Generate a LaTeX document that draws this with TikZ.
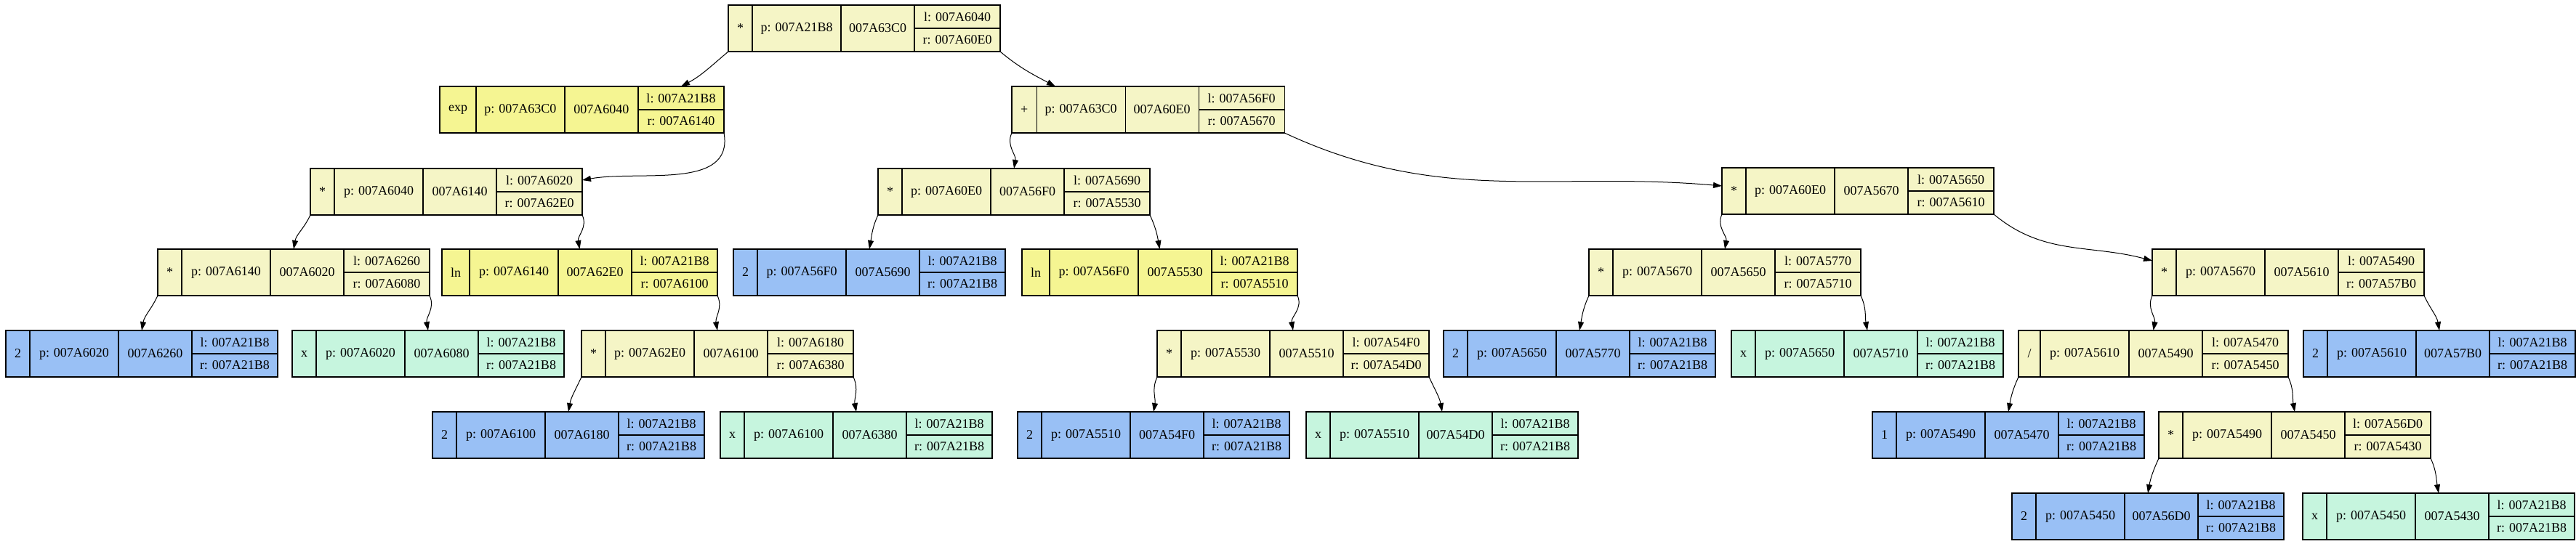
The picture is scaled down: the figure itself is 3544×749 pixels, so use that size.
\documentclass[tikz,border=0pt]{standalone}
\usepackage{fontspec}
\setmainfont{Liberation Serif}
\usetikzlibrary{positioning,fit,calc,arrows.meta}

\definecolor{opfill}{HTML}{F5F5C6}
\definecolor{fnfill}{HTML}{F5F592}
\definecolor{numfill}{HTML}{99C0F5}
\definecolor{varfill}{HTML}{C6F5DE}

\newcommand{\h}{64pt}
% #1 name, #2 position, #3 fill, #4 key, #5 parent, #6 self, #7 left, #8 right
\newcommand{\record}[8]{%
  \node[key, fill=#3, anchor=north west] (#1-k) at #2 {#4};
  \node[cell, fill=#3, minimum width=122pt, right=0pt of #1-k] (#1-p) {p: #5};
  \node[cell, fill=#3, minimum width=101pt, right=0pt of #1-p] (#1-a) {#6};
  \node[half, fill=#3, anchor=north west] (#1-l) at (#1-a.north east) {l: #7};
  \node[half, fill=#3, anchor=north west] (#1-r) at (#1-l.south west) {r: #8};
  \node[fit=(#1-k)(#1-r), inner sep=0pt, outer sep=0pt] (#1) {};
}

\begin{document}
\begin{tikzpicture}[x=1pt, y=1pt,
    cell/.style={draw, rectangle, minimum height=\h, inner sep=0pt, outer sep=0pt, line width=1.2pt, font=\fontsize{18}{20}\selectfont},
    key/.style={cell, minimum width=30pt, inner xsep=12pt},
    half/.style={cell, minimum height=32pt, minimum width=118pt},
    link/.style={-{Triangle[length=12pt,width=8pt]}, line width=1pt}]
    \useasboundingbox (0,0) rectangle (3544,-749);

    % Level 0 and 1
    \record{a63C0}{(1002,-7)}{opfill}{*}{007A21B8}{007A63C0}{007A6040}{007A60E0}
    \record{a6040}{(605,-119)}{fnfill}{exp}{007A63C0}{007A6040}{007A21B8}{007A6140}
    \record{a60E0}{(1392,-119)}{opfill}{+}{007A63C0}{007A60E0}{007A56F0}{007A5670}

    % Level 2
    \record{a6140}{(427,-232)}{opfill}{*}{007A6040}{007A6140}{007A6020}{007A62E0}
    \record{a56F0}{(1208,-232)}{opfill}{*}{007A60E0}{007A56F0}{007A5690}{007A5530}
    \record{a5670}{(2369,-231)}{opfill}{*}{007A60E0}{007A5670}{007A5650}{007A5610}

    % Level 3
    \record{a6020}{(217,-343)}{opfill}{*}{007A6140}{007A6020}{007A6260}{007A6080}
    \record{a62E0}{(608,-343)}{fnfill}{ln}{007A6140}{007A62E0}{007A21B8}{007A6100}
    \record{a5690}{(1009,-343)}{numfill}{2}{007A56F0}{007A5690}{007A21B8}{007A21B8}
    \record{a5530}{(1406,-343)}{fnfill}{ln}{007A56F0}{007A5530}{007A21B8}{007A5510}
    \record{a5650}{(2186,-343)}{opfill}{*}{007A5670}{007A5650}{007A5770}{007A5710}
    \record{a5610}{(2961,-343)}{opfill}{*}{007A5670}{007A5610}{007A5490}{007A57B0}

    % Level 4
    \record{a6260}{(8,-455)}{numfill}{2}{007A6020}{007A6260}{007A21B8}{007A21B8}
    \record{a6080}{(402,-455)}{varfill}{x}{007A6020}{007A6080}{007A21B8}{007A21B8}
    \record{a6100}{(800,-455)}{opfill}{*}{007A62E0}{007A6100}{007A6180}{007A6380}
    \record{a5510}{(1592,-455)}{opfill}{*}{007A5530}{007A5510}{007A54F0}{007A54D0}
    \record{a5770}{(1986,-455)}{numfill}{2}{007A5650}{007A5770}{007A21B8}{007A21B8}
    \record{a5710}{(2382,-455)}{varfill}{x}{007A5650}{007A5710}{007A21B8}{007A21B8}
    \record{a5490}{(2777,-455)}{opfill}{/}{007A5610}{007A5490}{007A5470}{007A5450}
    \record{a57B0}{(3169,-455)}{numfill}{2}{007A5610}{007A57B0}{007A21B8}{007A21B8}

    % Level 5
    \record{a6180}{(595,-567)}{numfill}{2}{007A6100}{007A6180}{007A21B8}{007A21B8}
    \record{a6380}{(991,-567)}{varfill}{x}{007A6100}{007A6380}{007A21B8}{007A21B8}
    \record{a54F0}{(1400,-567)}{numfill}{2}{007A5510}{007A54F0}{007A21B8}{007A21B8}
    \record{a54D0}{(1797,-567)}{varfill}{x}{007A5510}{007A54D0}{007A21B8}{007A21B8}
    \record{a5470}{(2576,-567)}{numfill}{1}{007A5490}{007A5470}{007A21B8}{007A21B8}
    \record{a5450}{(2970,-567)}{opfill}{*}{007A5490}{007A5450}{007A56D0}{007A5430}

    % Level 6
    \record{a56D0}{(2768,-679)}{numfill}{2}{007A5450}{007A56D0}{007A21B8}{007A21B8}
    \record{a5430}{(3168,-679)}{varfill}{x}{007A5450}{007A5430}{007A21B8}{007A21B8}

    % Edges
    \draw[link] (a63C0.south west) to[out=-140, in=28] (a6040-l.north);
    \draw[link] (a63C0.south east) to[out=-40, in=152] ($(a60E0.north west)+(60,0)$);
    \draw[link] (a6040.south east) to[out=-80, in=10] (a6140-l.east);
    \draw[link] (a60E0.south west) to[out=-115, in=80] (a56F0.north);
    \draw[link] (a60E0.south east) to[out=-25, in=175] ($(a5670.west)+(0,7)$);
    \draw[link] (a6140.south west) to[out=-115, in=80] (a6020.north);
    \draw[link] (a6140.south east) to[out=-65, in=100] (a62E0.north);
    \draw[link] (a56F0.south west) to[out=-115, in=80] (a5690.north);
    \draw[link] (a56F0.south east) to[out=-65, in=100] (a5530.north);
    \draw[link] (a5670.south west) to[out=-115, in=80] (a5650.north);
    \draw[link] (a5670.south east) to[out=-40, in=165] ($(a5610.north west)+(0,-16)$);
    \draw[link] (a6020.south west) to[out=-115, in=80] (a6260.north);
    \draw[link] (a6020.south east) to[out=-65, in=100] (a6080.north);
    \draw[link] (a62E0.south east) to[out=-65, in=100] (a6100.north);
    \draw[link] (a5530.south east) to[out=-65, in=100] (a5510.north);
    \draw[link] (a5650.south west) to[out=-115, in=80] (a5770.north);
    \draw[link] (a5650.south east) to[out=-65, in=100] (a5710.north);
    \draw[link] (a5610.south west) to[out=-115, in=80] (a5490.north);
    \draw[link] (a5610.south east) to[out=-65, in=100] (a57B0.north);
    \draw[link] (a6100.south west) to[out=-115, in=80] (a6180.north);
    \draw[link] (a6100.south east) to[out=-65, in=100] (a6380.north);
    \draw[link] (a5510.south west) to[out=-115, in=80] (a54F0.north);
    \draw[link] (a5510.south east) to[out=-65, in=100] (a54D0.north);
    \draw[link] (a5490.south west) to[out=-115, in=80] (a5470.north);
    \draw[link] (a5490.south east) to[out=-65, in=100] (a5450.north);
    \draw[link] (a5450.south west) to[out=-115, in=80] (a56D0.north);
    \draw[link] (a5450.south east) to[out=-65, in=100] (a5430.north);

\end{tikzpicture}
\end{document}
